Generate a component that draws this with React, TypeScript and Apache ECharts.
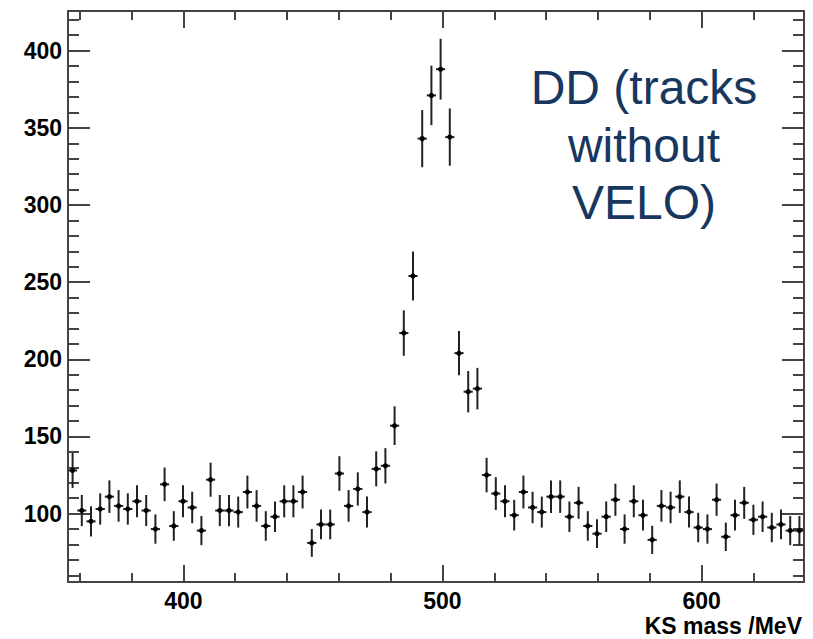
import React, { useEffect, useRef } from 'react';
import * as echarts from 'echarts';

// Histogram binning (MeV)
const binLow = 355.5;
const binHigh = 639.5;
const binWidth = 3.55;

// Counts per bin (80 bins)
const counts = [
  128, 102, 95, 103, 111, 105, 103, 108, 102, 90,
  119, 92, 108, 104, 89, 122, 102, 102, 101, 114,
  105, 92, 98, 108, 108, 114, 81, 93, 93, 126,
  105, 116, 101, 129, 131, 157, 217, 254, 343, 371,
  388, 344, 204, 179, 181, 125, 113, 108, 99, 114,
  104, 101, 111, 111, 98, 107, 92, 87, 98, 109,
  90, 108, 99, 83, 105, 104, 111, 101, 91, 90,
  109, 85, 99, 107, 96, 98, 91, 93, 89, 89,
];

const yMin = 55.7;
const yMax = 425.7;

const xMajorTicks = [400, 500, 600];
const xMinorTicks = [360, 380, 420, 440, 460, 480, 520, 540, 560, 580, 620];
const yMajorTicks = [100, 150, 200, 250, 300, 350, 400];
const yMinorTicks = [
  60, 70, 80, 90, 110, 120, 130, 140, 160, 170, 180, 190, 210, 220, 230, 240,
  260, 270, 280, 290, 310, 320, 330, 340, 360, 370, 380, 390, 410, 420,
];

const annotation = 'DD (tracks\nwithout\nVELO)';
const xTitle = 'KS mass /MeV';

const AXIS_COLOR = '#444';
const FONT = 'Liberation Sans, Arial, Helvetica, sans-serif';

function makeAxis(
  kind: 'x' | 'y',
  position: string,
  ticks: number[],
  length: number,
  showLine: boolean,
  showLabels: boolean,
) {
  return {
    type: 'value',
    position,
    min: kind === 'x' ? binLow : yMin,
    max: kind === 'x' ? binHigh : yMax,
    axisLine: { show: showLine, onZero: false, lineStyle: { color: AXIS_COLOR, width: 2 } },
    axisTick: {
      show: true,
      inside: true,
      length,
      customValues: ticks,
      lineStyle: { color: AXIS_COLOR, width: 2 },
    },
    axisLabel: showLabels
      ? {
          show: true,
          customValues: ticks,
          fontSize: 23,
          lineHeight: 22,
          fontWeight: 'bold',
          fontFamily: FONT,
          color: '#000',
          margin: kind === 'x' ? 8 : 6,
        }
      : { show: false },
    splitLine: { show: false },
  };
}

export default function App() {
  const ref = useRef<HTMLDivElement>(null);

  useEffect(() => {
    if (!ref.current) return;
    const chart = echarts.init(ref.current, undefined, { renderer: 'svg' });

    const data = counts.map((c, i) => [binLow + binWidth * (i + 0.5), c, Math.sqrt(c)]);

    chart.setOption({
      animation: false,
      backgroundColor: '#fff',
      grid: { left: 68, top: 11, width: 736, height: 571, containLabel: false },
      xAxis: [
        makeAxis('x', 'bottom', xMajorTicks, 17, true, true),
        makeAxis('x', 'bottom', xMinorTicks, 9, false, false),
        makeAxis('x', 'top', xMajorTicks, 17, true, false),
        makeAxis('x', 'top', xMinorTicks, 9, false, false),
      ],
      yAxis: [
        makeAxis('y', 'left', yMajorTicks, 22, true, true),
        makeAxis('y', 'left', yMinorTicks, 11, false, false),
        makeAxis('y', 'right', yMajorTicks, 22, true, false),
        makeAxis('y', 'right', yMinorTicks, 11, false, false),
      ],
      series: [
        {
          type: 'custom',
          xAxisIndex: 0,
          yAxisIndex: 0,
          clip: true,
          data,
          renderItem: (params: any, api: any) => {
            const x = api.value(0);
            const y = api.value(1);
            const e = api.value(2);
            const top = api.coord([x, y + e]);
            const bot = api.coord([x, y - e]);
            const left = api.coord([x - binWidth / 2, y]);
            const right = api.coord([x + binWidth / 2, y]);
            const c = api.coord([x, y]);
            return {
              type: 'group',
              children: [
                {
                  type: 'line',
                  shape: { x1: top[0], y1: top[1], x2: bot[0], y2: bot[1] },
                  style: { stroke: '#222', lineWidth: 2 },
                },
                {
                  type: 'line',
                  shape: { x1: left[0], y1: c[1], x2: right[0], y2: c[1] },
                  style: { stroke: '#222', lineWidth: 2 },
                },
                {
                  type: 'circle',
                  shape: { cx: c[0], cy: c[1], r: 2.6 },
                  style: { fill: '#000' },
                },
              ],
            };
          },
        },
      ],
      graphic: [
        {
          type: 'text',
          x: 644,
          y: 59,
          style: {
            text: annotation,
            fill: '#17375E',
            fontSize: 48,
            fontFamily: FONT,
            align: 'center',
            verticalAlign: 'top',
            textAlign: 'center',
            textVerticalAlign: 'top',
            lineHeight: 57.5,
          },
        },
        {
          type: 'text',
          x: 802,
          y: 626,
          style: {
            text: xTitle,
            fill: '#000',
            fontSize: 23,
            lineHeight: 20,
            fontWeight: 'bold',
            fontFamily: FONT,
            align: 'right',
            verticalAlign: 'middle',
            textAlign: 'right',
            textVerticalAlign: 'middle',
          },
        },
      ],
    });

    return () => chart.dispose();
  }, []);

  return (
    <div
      ref={ref}
      style={{ position: 'fixed', left: 0, top: 0, width: 813, height: 639, background: '#fff' }}
    />
  );
}
